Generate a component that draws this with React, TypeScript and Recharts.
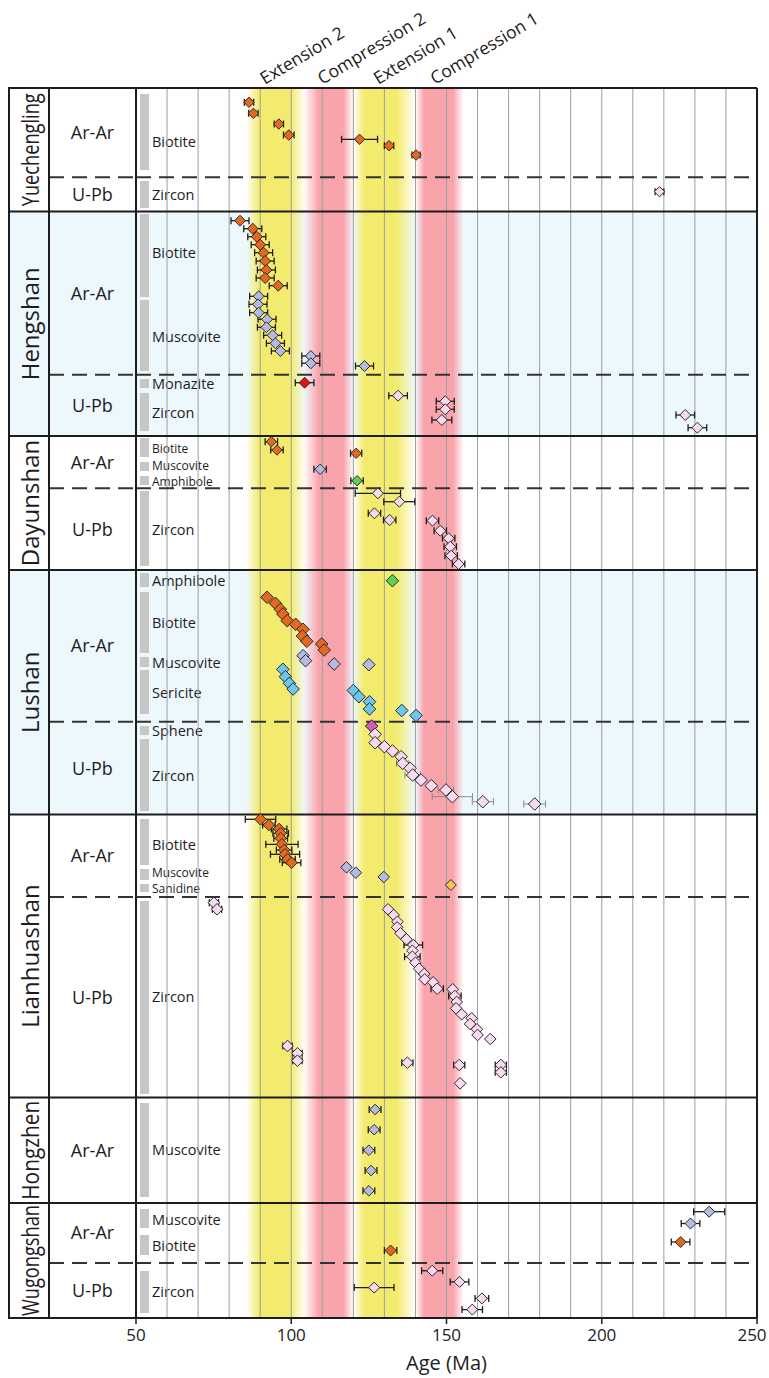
import React from 'react';
import { ScatterChart, Scatter, XAxis, YAxis, ReferenceArea, ReferenceLine, ErrorBar, Customized } from 'recharts';

const FONT = '"Open Sans", "Noto Sans", sans-serif';
const W = 769;
const H = 1378;
const M = { top: 88, right: 12, left: 136, bottom: 0 };
const XAXIS_H = 60;
const TABLE_L = 9;
const COL_SPLIT = 49;
const Y_MAX = 123;

// ---------- data: [age (Ma), error (Ma), vertical position (row units from top)] ----------
const yueBiotite = [[86.4, 1.5, 1.43], [87.8, 1.5, 2.53], [96.0, 1.5, 3.6], [99.2, 1.7, 4.7], [122.0, 5.8, 5.13], [131.5, 1.5, 5.77], [140.2, 1.3, 6.7]];
const yueZircon = [[218.6, 1.4, 10.37]];

const hengBiotite = [[83.5, 2.9, 13.27], [87.6, 2.9, 14.07], [88.9, 2.9, 14.87], [90.0, 2.9, 15.67], [91.1, 2.9, 16.47], [91.6, 2.9, 17.3], [92.0, 2.9, 18.2], [91.6, 2.9, 19.0], [95.8, 2.9, 19.77]];
const hengMuscovite = [[89.5, 2.9, 20.83], [89.3, 2.9, 21.63], [89.5, 2.9, 22.47], [92.2, 2.9, 23.13], [92.0, 2.9, 23.93], [94.0, 2.9, 24.73], [94.9, 2.9, 25.53], [96.5, 2.9, 26.3], [106.3, 2.9, 26.8], [106.3, 2.9, 27.53], [123.6, 2.9, 27.8]];
const hengMonazite = [[104.3, 3.0, 29.47]];
const hengZircon = [[134.4, 3.0, 30.77], [149.6, 2.9, 31.33], [149.6, 2.9, 32.13], [148.5, 3.2, 33.2], [226.9, 3.0, 32.7], [230.8, 3.0, 33.97]];

const dayBiotite = [[93.6, 2.0, 35.37], [95.4, 2.0, 36.2], [120.9, 1.8, 36.53]];
const dayMuscovite = [[109.3, 2.0, 38.13]];
const dayAmphibole = [[121.2, 2.0, 39.27]];
const dayZircon = [[127.9, 7.3, 40.53], [134.8, 5.0, 41.37], [126.8, 2.0, 42.53], [131.7, 2.0, 43.2], [145.5, 2.0, 43.27], [148.0, 2.0, 44.27], [150.7, 2.0, 45.03], [151.2, 2.0, 45.87], [151.5, 2.0, 46.77], [153.9, 2.0, 47.6]];

const luAmphibole = [[132.6, 0, 49.27]];
const luBiotite = [[92.2, 0, 50.93], [94.9, 0, 51.53], [96.5, 0, 52.13], [97.3, 0, 52.6], [98.7, 0, 53.27], [101.4, 0, 53.63], [103.8, 0, 54.13], [103.6, 0, 54.8], [105.0, 0, 55.33], [109.8, 0, 55.6], [110.6, 0, 56.2]];
const luMuscovite = [[103.8, 0, 56.77], [104.6, 0, 57.27], [113.8, 0, 57.6], [125.0, 0, 57.67]];
const luSericite = [[97.3, 0, 58.13], [98.1, 0, 58.87], [99.4, 0, 59.53], [100.6, 0, 60.1], [120.0, 0, 60.25], [121.8, 0, 60.87], [125.2, 0, 61.37], [125.2, 0, 62.1], [135.6, 0, 62.25], [140.2, 0, 62.75]];
const luSphene = [[125.9, 0, 63.8]];
const luZircon = [[127.0, 0, 64.63], [127.0, 0, 65.47], [130.0, 0, 65.87], [132.6, 0, 66.3], [135.4, 0, 66.87], [135.9, 2.0, 67.53], [138.3, 0, 68.03], [139.1, 2.5, 68.7], [141.8, 0, 69.2], [145.1, 0, 69.77], [149.8, 2.5, 70.2], [151.9, 6.5, 70.87], [161.7, 3.4, 71.37], [178.4, 3.5, 71.6]];

const lhBiotite = [[90.1, 4.9, 73.13], [92.8, 2.0, 73.7], [96.1, 2.5, 74.1], [96.6, 2.5, 74.53], [96.6, 2.2, 75.03], [97.0, 5.2, 75.63], [97.7, 2.5, 76.2], [98.0, 4.7, 76.63], [98.8, 2.5, 77.13], [100.1, 3.0, 77.47]];
const lhMuscovite = [[117.8, 0, 77.93], [120.8, 0, 78.47], [129.8, 0, 78.9]];
const lhSanidine = [[151.4, 0, 79.7]];
const lhZircon = [
  [75.1, 1.5, 81.47], [76.1, 1.5, 82.13], [131.2, 0, 82.13], [133.0, 0, 82.7], [134.2, 0, 83.37], [134.1, 0, 83.93],
  [135.2, 0, 84.53], [137.1, 0, 85.13], [139.3, 3.0, 85.7], [139.0, 0, 86.27], [139.0, 2.5, 86.87], [140.0, 0, 87.47],
  [141.2, 0, 88.07], [142.8, 0, 88.6], [143.0, 0, 89.13], [145.7, 0, 89.43], [147.0, 2.0, 90.07], [152.0, 0, 90.13],
  [152.7, 2.0, 90.8], [153.3, 0, 91.4], [153.1, 0, 92.03], [154.9, 0, 92.63], [158.1, 0, 93.03], [157.6, 0, 93.6],
  [159.8, 0, 94.13], [160.0, 0, 94.7], [164.1, 0, 95.1], [98.8, 1.5, 95.8], [102.0, 1.5, 96.53], [102.0, 1.5, 97.27],
  [137.4, 1.8, 97.47], [154.1, 1.8, 97.7], [167.5, 1.8, 97.7], [167.5, 1.8, 98.43], [154.4, 0, 99.53],
];

const hzMuscovite = [[127.0, 1.9, 102.15], [126.7, 1.9, 104.17], [125.0, 1.9, 106.23], [125.7, 1.9, 108.25], [125.0, 1.9, 110.28]];

const wgMuscovite = [[234.6, 5.0, 112.37], [228.6, 3.0, 113.55]];
const wgBiotite = [[225.4, 3.0, 115.4], [132.0, 2.0, 116.25]];
const wgZircon = [[145.4, 3.4, 118.27], [154.2, 3.0, 119.39], [126.7, 6.4, 119.96], [161.4, 2.2, 121.04], [158.3, 3.3, 122.16]];

// ---------- table structure ----------
const regions = ['Yuechengling', 'Hengshan', 'Dayunshan', 'Lushan', 'Lianhuashan', 'Hongzhen', 'Wugongshan'];
const regionBounds = [0, 12.35, 34.8, 48.2, 72.65, 100.95, 111.5, 123];
const regionShaded = [false, true, false, true, false, false, false];
const regionMethods = [['Ar-Ar', 'U-Pb'], ['Ar-Ar', 'U-Pb'], ['Ar-Ar', 'U-Pb'], ['Ar-Ar', 'U-Pb'], ['Ar-Ar', 'U-Pb'], ['Ar-Ar'], ['Ar-Ar', 'U-Pb']];
const methodDividers = [8.93, 28.67, 40.03, 63.37, 80.9, null, 117.5];

// [mineral, bar top, bar bottom, label position]
const minerals = [
  ['Biotite', 0.6, 8.2, 5.4], ['Zircon', 9.3, 12.0, 10.7],
  ['Biotite', 12.6, 20.9, 16.5], ['Muscovite', 21.2, 28.3, 24.9], ['Monazite', 29.1, 30.0, 29.6], ['Zircon', 30.5, 34.3, 32.5],
  ['Biotite', 35.0, 36.9, 36.05], ['Muscovite', 37.4, 38.3, 37.75], ['Amphibole', 38.8, 39.7, 39.35], ['Zircon', 40.3, 47.8, 44.2],
  ['Amphibole', 48.5, 49.9, 49.25], ['Biotite', 50.4, 56.5, 53.5], ['Muscovite', 56.9, 57.9, 57.45], ['Sericite', 58.2, 62.6, 60.45], ['Sphene', 63.8, 64.7, 64.25], ['Zircon', 65.1, 72.3, 68.8],
  ['Biotite', 73.1, 77.7, 75.7], ['Muscovite', 78.1, 79.2, 78.5], ['Sanidine', 79.6, 80.4, 80.1], ['Zircon', 81.3, 100.6, 90.9],
  ['Muscovite', 101.5, 110.9, 106.2],
  ['Muscovite', 112.1, 114.0, 113.15], ['Biotite', 114.7, 116.7, 115.75], ['Zircon', 118.3, 122.5, 120.4],
];
const crampedMinerals = [6, 7, 8, 17, 18];

// tectonic stages: [label, start Ma, end Ma, kind, label anchor Ma]
const stages = [
  ['Extension 2', 85.5, 104.5, 'y', 91.5],
  ['Compression 2', 104, 120, 'r', 110],
  ['Extension 1', 120, 140, 'y', 128],
  ['Compression 1', 140, 155.5, 'r', 146.3],
];
const stageCore = [[0.22, 0.76], [0.3, 0.8], [0.17, 0.7], [0.18, 0.78]];

const xTicks = [50, 100, 150, 200, 250];
const gridAges = [60, 70, 80, 90, 100, 110, 120, 130, 140, 150, 160, 170, 180, 190, 200, 210, 220, 230, 240];

// ---------- styles ----------
const ORANGE = '#E2691F';
const LAVENDER = '#B4BBE2';
const PINK = '#F7DAF0';
const RED = '#E5101A';
const GREEN = '#5ED054';
const SKY = '#6CC6EE';
const MAGENTA = '#D05CBE';
const SANID = '#F6C658';
const BLUE_BG = '#EDF8FD';
const YELLOW = '#F3EB6E';
const PINKRED = '#F9A3AB';
const INK = '#1e1c1d';

const series = [
  { rows: yueBiotite, fill: ORANGE, r: 5.2, err: INK },
  { rows: yueZircon, fill: PINK, r: 5.2, err: INK },
  { rows: hengBiotite, fill: ORANGE, r: 5.5, err: INK },
  { rows: hengMuscovite, fill: LAVENDER, r: 5.5, err: INK },
  { rows: hengMonazite, fill: RED, r: 5.5, err: INK },
  { rows: hengZircon, fill: PINK, r: 5.5, err: INK },
  { rows: dayBiotite, fill: ORANGE, r: 5.2, err: INK },
  { rows: dayMuscovite, fill: LAVENDER, r: 5.2, err: INK },
  { rows: dayAmphibole, fill: GREEN, r: 5.2, err: INK },
  { rows: dayZircon, fill: PINK, r: 5.5, err: INK },
  { rows: luAmphibole, fill: GREEN, r: 6.3, err: null },
  { rows: luBiotite, fill: ORANGE, r: 6.3, err: null },
  { rows: luMuscovite, fill: LAVENDER, r: 6.3, err: null },
  { rows: luSericite, fill: SKY, r: 6.3, err: null },
  { rows: luSphene, fill: MAGENTA, r: 6.3, err: null },
  { rows: luZircon, fill: PINK, r: 6.3, err: '#8a8a8a' },
  { rows: lhBiotite, fill: ORANGE, r: 5.8, err: INK },
  { rows: lhMuscovite, fill: LAVENDER, r: 5.8, err: null },
  { rows: lhSanidine, fill: SANID, r: 5.5, err: null },
  { rows: lhZircon, fill: PINK, r: 5.8, err: INK },
  { rows: hzMuscovite, fill: LAVENDER, r: 5.3, err: INK },
  { rows: wgMuscovite, fill: LAVENDER, r: 5.5, err: INK },
  { rows: wgBiotite, fill: ORANGE, r: 5.5, err: INK },
  { rows: wgZircon, fill: PINK, r: 5.5, err: INK },
];

const toPts = (rows: number[][]) => rows.map(([x, err, y]) => ({ x, err, y }));

function diamond(fill: string, r: number) {
  return (p: any) => {
    const { cx, cy } = p;
    if (cx == null || cy == null) return <g />;
    return (
      <path
        d={`M${cx},${cy - r}L${cx + r},${cy}L${cx},${cy + r}L${cx - r},${cy}Z`}
        fill={fill}
        stroke="#2a2a2a"
        strokeWidth={1}
      />
    );
  };
}

const PLOT_H = H - M.top - M.bottom - XAXIS_H;
const PLOT_W = W - M.left - M.right;
const yPx = (u: number) => M.top + (u / Y_MAX) * PLOT_H;
const xPx = (ma: number) => M.left + ((ma - 50) / 200) * PLOT_W;

const nameFit: Record<string, number> = { Yuechengling: 113, Hongzhen: 99, Wugongshan: 111 };

function AgeTick(props: any) {
  const { x, y, payload } = props;
  const shift = payload.value === 250 ? -5 : 0;
  return (
    <text x={x + shift} y={y} dy="0.9em" textAnchor="middle" fontSize={17} fill={INK} fontFamily={FONT}>
      {payload.value}
    </text>
  );
}

function LeftTable() {
  const top = yPx(0);
  const bottom = yPx(Y_MAX);
  return (
    <g fontFamily={FONT} fill={INK}>
      {regions.map((name, i) => {
        const y0 = yPx(regionBounds[i]);
        const y1 = yPx(regionBounds[i + 1]);
        return regionShaded[i] ? (
          <rect key={'bg' + name} x={TABLE_L} y={y0} width={W - M.right - TABLE_L} height={y1 - y0} fill={BLUE_BG} />
        ) : null;
      })}
      {regions.map((name, i) => {
        const y0 = yPx(regionBounds[i]);
        const y1 = yPx(regionBounds[i + 1]);
        const cx = (TABLE_L + COL_SPLIT) / 2;
        const cy = (y0 + y1) / 2;
        const fit = nameFit[name];
        return (
          <text
            key={'n' + name}
            transform={`translate(${cx + 1},${cy}) rotate(-90)`}
            textAnchor="middle"
            dy="0.36em"
            fontSize={24}
            {...(fit ? { textLength: fit, lengthAdjust: 'spacingAndGlyphs' } : {})}
          >
            {name}
          </text>
        );
      })}
      {regions.map((name, i) => {
        const ms = regionMethods[i];
        const d = methodDividers[i];
        const parts = ms.length === 2 && d != null
          ? [[regionBounds[i], d], [d, regionBounds[i + 1]]]
          : [[regionBounds[i], regionBounds[i + 1]]];
        return ms.map((m, j) => (
          <text
            key={'m' + name + m}
            x={(COL_SPLIT + M.left) / 2}
            y={(yPx(parts[j][0]) + yPx(parts[j][1])) / 2}
            dy="0.36em"
            textAnchor="middle"
            fontSize={18}
          >
            {m}
          </text>
        ));
      })}
      {methodDividers.map((d, i) =>
        d == null ? null : (
          <line key={'d' + i} x1={COL_SPLIT} x2={M.left} y1={yPx(d)} y2={yPx(d)} stroke="#333" strokeWidth={2} strokeDasharray="15 8" />
        )
      )}
      {regionBounds.map((b, i) => (
        <line key={'b' + i} x1={TABLE_L - 1} x2={M.left} y1={yPx(b)} y2={yPx(b)} stroke={INK} strokeWidth={2} />
      ))}
      <line x1={TABLE_L} x2={TABLE_L} y1={top} y2={bottom} stroke={INK} strokeWidth={2} />
      <line x1={COL_SPLIT} x2={COL_SPLIT} y1={top} y2={bottom} stroke={INK} strokeWidth={2} />
      {minerals.map(([name, t, b, l], i) => (
        <g key={'min' + i}>
          <rect x={140} y={yPx(t as number)} width={9} height={yPx(b as number) - yPx(t as number)} fill="#c6c6c6" />
          <text x={152} y={yPx(l as number)} dy="0.36em" fontSize={crampedMinerals.includes(i) ? 12 : 14.5}>{name}</text>
        </g>
      ))}
      {stages.map(([label, , , , at]) => {
        const x = xPx(at as number);
        const y = top - 3;
        return (
          <text key={'st' + label} x={x} y={y} fontSize={17.5} transform={`rotate(-31 ${x} ${y})`}>
            {label}
          </text>
        );
      })}
    </g>
  );
}

export default function App() {
  return (
    <div style={{ position: 'relative', width: W, height: H, background: '#fff' }}>
      <style>{'body{margin:0;background:#fff}'}</style>
      <svg width={0} height={0} style={{ position: 'absolute' }}>
        <defs>
          {stages.map(([label, , , kind], i) => {
            const c = kind === 'y' ? YELLOW : PINKRED;
            const [a, b] = stageCore[i];
            return (
              <linearGradient key={'g' + i} id={'stage' + i} x1="0" y1="0" x2="1" y2="0">
                <stop offset="0" stopColor={c} stopOpacity={0} />
                <stop offset={a} stopColor={c} stopOpacity={1} />
                <stop offset={b} stopColor={c} stopOpacity={1} />
                <stop offset="1" stopColor={c} stopOpacity={0} />
              </linearGradient>
            );
          })}
        </defs>
      </svg>
      <ScatterChart width={W} height={H} margin={M}>
        <XAxis
          type="number"
          dataKey="x"
          domain={[50, 250]}
          ticks={xTicks}
          interval={0}
          height={XAXIS_H}
          tickSize={6}
          axisLine={{ stroke: INK, strokeWidth: 2 }}
          tickLine={{ stroke: INK, strokeWidth: 1.5 }}
          tick={<AgeTick />}
          label={{ value: 'Age (Ma)', position: 'insideBottom', offset: 8, fontSize: 20, fill: INK, fontFamily: FONT }}
        />
        <YAxis type="number" dataKey="y" domain={[0, Y_MAX]} reversed hide />
        <Customized component={<LeftTable />} />
        {stages.map(([label, s, e], i) => (
          <ReferenceArea key={'band' + label} x1={s as number} x2={e as number} y1={0} y2={Y_MAX} fill={`url(#stage${i})`} fillOpacity={1} stroke="none" />
        ))}
        {gridAges.map((g) => (
          <ReferenceLine key={'gl' + g} x={g} stroke="#9a9fa4" strokeWidth={1} />
        ))}
        {methodDividers.map((d, i) =>
          d == null ? null : <ReferenceLine key={'dl' + i} y={d} stroke="#333" strokeWidth={2} strokeDasharray="15 8" />
        )}
        {regionBounds.map((b, i) => (
          <ReferenceLine key={'rl' + i} y={b} stroke={INK} strokeWidth={2} />
        ))}
        <ReferenceLine x={50} stroke={INK} strokeWidth={2} />
        <ReferenceLine x={250} stroke={INK} strokeWidth={2} />
        {series.map((s, i) => (
          <Scatter key={'s' + i} data={toPts(s.rows)} shape={diamond(s.fill, s.r)} isAnimationActive={false} legendType="none">
            {s.err ? (
              <ErrorBar dataKey="err" direction="x" width={3.5} stroke={s.err} strokeWidth={s.err === INK ? 1.3 : 1} isAnimationActive={false} />
            ) : null}
          </Scatter>
        ))}
      </ScatterChart>
    </div>
  );
}
